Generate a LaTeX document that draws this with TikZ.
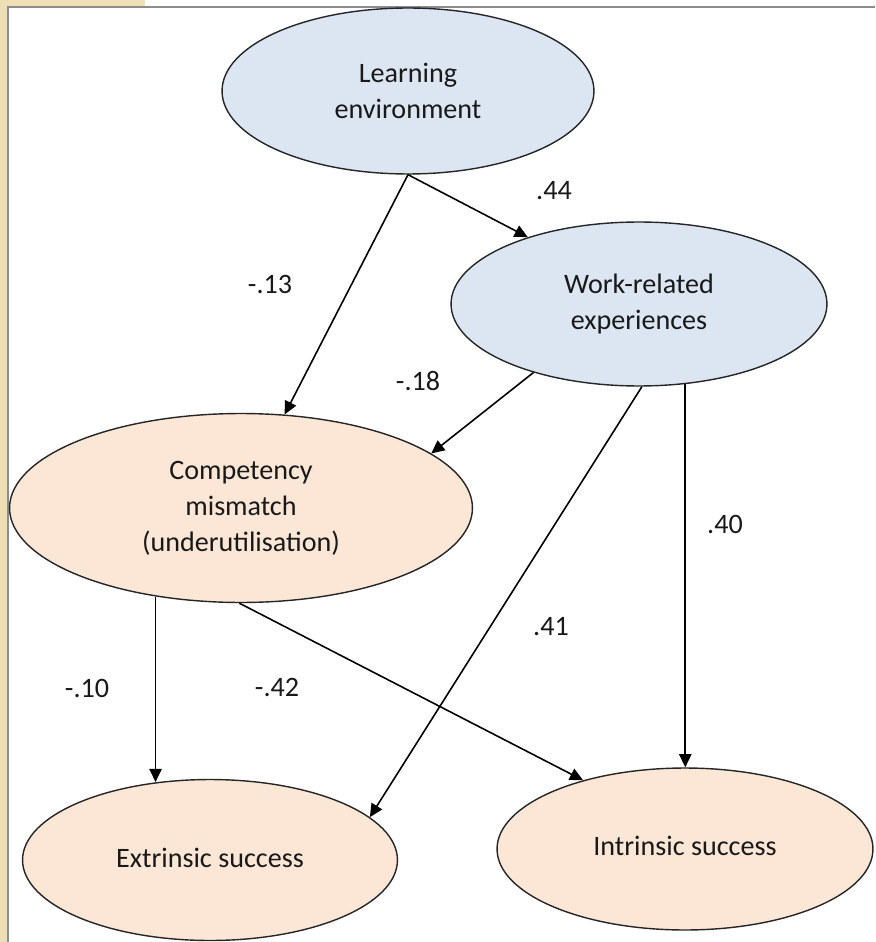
\documentclass[tikz,border=0pt]{standalone}
\usepackage{fontspec}
\setmainfont{Carlito}
\usetikzlibrary{arrows.meta,shapes.geometric}
\definecolor{nodeblue}{RGB}{220,230,242}
\definecolor{nodepeach}{RGB}{252,230,214}
\definecolor{slidebeige}{RGB}{238,224,180}
\definecolor{framegray}{RGB}{140,140,140}
\definecolor{textdark}{RGB}{25,25,25}
\begin{document}
\begin{tikzpicture}[x=0.02cm,y=-0.02cm,
  every node/.style={font=\fontsize{16}{20.5}\selectfont, text=textdark},
  var/.style={ellipse, draw=black!85, line width=0.8pt, inner sep=0pt, align=center},
  bluevar/.style={var, fill=nodeblue},
  peachvar/.style={var, fill=nodepeach},
  conn/.style={draw=black, line width=0.9pt, -{Triangle[length=7.5pt,width=7pt]}},
  coef/.style={inner sep=0pt}]
\useasboundingbox (0,0) rectangle (875,942);
\fill[white] (0,0) rectangle (875,942);
\fill[slidebeige] (0,0) rectangle (8,942);
\fill[slidebeige] (0,0) rectangle (145,6);
\draw[framegray, line width=1.1pt] (8,942) -- (8,7) -- (875,7);

\node[bluevar, minimum width=7.44cm, minimum height=3.32cm] (le) at (408,91) {Learning\\environment};
\node[bluevar, minimum width=7.52cm, minimum height=3.28cm] (wr) at (639,304) {Work-related\\experiences};
\node[peachvar, minimum width=9.26cm, minimum height=3.78cm] (cm) at (241,508) {Competency\\mismatch\\(underutilisation)};
\node[peachvar, minimum width=7.5cm, minimum height=3.22cm] (ext) at (210,860) {\raisebox{2.5pt}{Extrinsic success}};
\node[peachvar, minimum width=7.52cm, minimum height=3.24cm] (int) at (685,849) {\raisebox{4pt}{Intrinsic success}};

\draw[conn] (le.south) -- (wr.149.3);
\draw[conn] (le.south) -- (cm.65.6);
\draw[conn] (wr.-147.5) -- (cm.16);
\draw[conn] (wr.-88) -- (ext.15);
\draw[conn] (wr.-60) -- (wr.-60 |- int.north);
\draw[conn] (cm.226.7) -- (cm.226.7 |- ext.124);
\draw[conn] (cm.-91) -- (int.146.7);

\node[coef] (l44) at (554,191) {.44};
\node[coef] (l13) at (270,284) {-.13};
\node[coef] (l18) at (418,381) {-.18};
\node[coef] (l40) at (725,524) {.40};
\node[coef] (l41) at (551,627) {.41};
\node[coef] (l10) at (87,688) {-.10};
\node[coef] (l42) at (277,687) {-.42};
\end{tikzpicture}
\end{document}
